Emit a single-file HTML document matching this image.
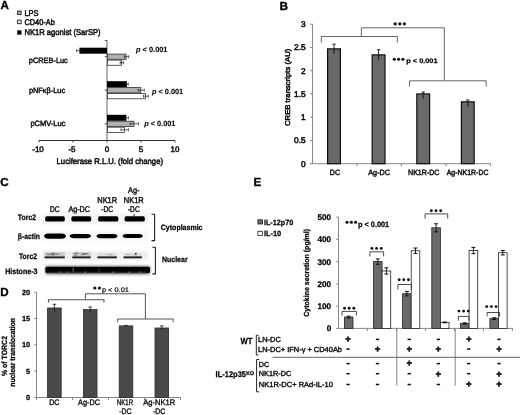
<!DOCTYPE html>
<html><head><meta charset="utf-8"><style>
html,body{margin:0;padding:0;background:#fff;}
svg{display:block;will-change:transform;}
text{font-family:"Liberation Sans", sans-serif;text-rendering:geometricPrecision;stroke:#111;}
</style></head><body>
<svg width="520" height="415" viewBox="0 0 520 415">
<defs>
<filter id="gsoft" x="0" y="0" width="100%" height="100%"><feGaussianBlur stdDeviation="0.25"/></filter>
<filter id="bl1" x="-10%" y="-30%" width="120%" height="160%"><feGaussianBlur stdDeviation="0.8"/></filter>
<filter id="bl2" x="-10%" y="-50%" width="120%" height="200%"><feGaussianBlur stdDeviation="0.6"/></filter>
<filter id="bl3" x="-10%" y="-50%" width="120%" height="200%"><feGaussianBlur stdDeviation="0.45"/></filter>
</defs>
<rect width="520" height="415" fill="#fff"/>
<g filter="url(#gsoft)">
<text x="0.60" y="9.30" font-size="11.6" style="stroke-width:0.35px" font-weight="bold" >A</text>
<rect x="17.60" y="11.05" width="3.50" height="3.50" fill="#b0b0b0" stroke="#333" stroke-width="1.0" />
<text x="24.40" y="15.50" font-size="8.4" style="stroke-width:0.5px" textLength="14.20" lengthAdjust="spacingAndGlyphs" >LPS</text>
<rect x="17.60" y="20.15" width="3.50" height="3.50" fill="#f4f4f4" stroke="#333" stroke-width="1.0" />
<text x="24.40" y="24.60" font-size="8.4" style="stroke-width:0.5px" textLength="30.40" lengthAdjust="spacingAndGlyphs" >CD40-Ab</text>
<rect x="17.60" y="30.75" width="3.50" height="3.50" fill="#000000" stroke="#333" stroke-width="1.0" />
<text x="24.40" y="35.20" font-size="8.4" style="stroke-width:0.5px" textLength="76.20" lengthAdjust="spacingAndGlyphs" >NK1R agonist (SarSP)</text>
<line x1="107.00" y1="40.00" x2="107.00" y2="140.50" stroke="#666" stroke-width="1.0"/>
<line x1="104.80" y1="40.50" x2="107.00" y2="40.50" stroke="#444" stroke-width="0.9"/>
<line x1="39.00" y1="140.50" x2="175.00" y2="140.50" stroke="#333" stroke-width="1.0"/>
<line x1="39.00" y1="140.50" x2="39.00" y2="142.50" stroke="#333" stroke-width="0.9"/>
<text x="38.00" y="152.40" font-size="8.0" style="stroke-width:0.5px" text-anchor="middle" >-10</text>
<line x1="73.00" y1="140.50" x2="73.00" y2="142.50" stroke="#333" stroke-width="0.9"/>
<text x="72.00" y="152.40" font-size="8.0" style="stroke-width:0.5px" text-anchor="middle" >-5</text>
<line x1="107.00" y1="140.50" x2="107.00" y2="142.50" stroke="#333" stroke-width="0.9"/>
<text x="107.00" y="152.40" font-size="8.0" style="stroke-width:0.5px" text-anchor="middle" >0</text>
<line x1="141.00" y1="140.50" x2="141.00" y2="142.50" stroke="#333" stroke-width="0.9"/>
<text x="141.00" y="152.40" font-size="8.0" style="stroke-width:0.5px" text-anchor="middle" >5</text>
<line x1="175.00" y1="140.50" x2="175.00" y2="142.50" stroke="#333" stroke-width="0.9"/>
<text x="175.00" y="152.40" font-size="8.0" style="stroke-width:0.5px" text-anchor="middle" >10</text>
<text x="56.60" y="163.60" font-size="8.2" style="stroke-width:0.5px" textLength="106.40" lengthAdjust="spacingAndGlyphs" >Luciferase R.L.U. (fold change)</text>
<text x="28.80" y="63.00" font-size="7.8" style="stroke-width:0.45px" textLength="39.00" lengthAdjust="spacingAndGlyphs" >pCREB-Luc</text>
<rect x="79.39" y="47.70" width="27.61" height="6.00" fill="#000" />
<line x1="76.54" y1="50.70" x2="82.25" y2="50.70" stroke="#222" stroke-width="0.7"/>
<line x1="82.25" y1="49.20" x2="82.25" y2="52.20" stroke="#222" stroke-width="0.7"/>
<line x1="76.54" y1="49.20" x2="76.54" y2="52.20" stroke="#222" stroke-width="0.7"/>
<rect x="107.40" y="54.10" width="18.72" height="5.20" fill="#b0b0b0" stroke="#333" stroke-width="0.8" />
<line x1="124.34" y1="56.70" x2="128.69" y2="56.70" stroke="#222" stroke-width="0.7"/>
<line x1="128.69" y1="55.20" x2="128.69" y2="58.20" stroke="#222" stroke-width="0.7"/>
<line x1="124.34" y1="55.20" x2="124.34" y2="58.20" stroke="#222" stroke-width="0.7"/>
<rect x="107.40" y="60.10" width="14.09" height="5.20" fill="#ffffff" stroke="#333" stroke-width="0.8" />
<line x1="120.19" y1="62.70" x2="123.59" y2="62.70" stroke="#222" stroke-width="0.7"/>
<line x1="123.59" y1="61.20" x2="123.59" y2="64.20" stroke="#222" stroke-width="0.7"/>
<line x1="120.19" y1="61.20" x2="120.19" y2="64.20" stroke="#222" stroke-width="0.7"/>
<text x="136.00" y="51.90" font-size="7.4" style="stroke-width:0.1px" font-weight="bold" textLength="31.50" lengthAdjust="spacingAndGlyphs" ><tspan font-style="italic">p</tspan> &lt; 0.001</text>
<line x1="104.80" y1="56.70" x2="107.00" y2="56.70" stroke="#333" stroke-width="0.9"/>
<text x="28.90" y="92.60" font-size="7.8" style="stroke-width:0.45px" textLength="36.20" lengthAdjust="spacingAndGlyphs" >pNF&#954;&#946;-Luc</text>
<rect x="107.00" y="81.20" width="19.92" height="6.00" fill="#000" />
<line x1="125.56" y1="84.20" x2="128.28" y2="84.20" stroke="#222" stroke-width="0.7"/>
<line x1="128.28" y1="82.70" x2="128.28" y2="85.70" stroke="#222" stroke-width="0.7"/>
<line x1="125.56" y1="82.70" x2="125.56" y2="85.70" stroke="#222" stroke-width="0.7"/>
<rect x="107.40" y="87.60" width="33.40" height="5.20" fill="#b0b0b0" stroke="#333" stroke-width="0.8" />
<line x1="138.14" y1="90.20" x2="144.26" y2="90.20" stroke="#222" stroke-width="0.7"/>
<line x1="144.26" y1="88.70" x2="144.26" y2="91.70" stroke="#222" stroke-width="0.7"/>
<line x1="138.14" y1="88.70" x2="138.14" y2="91.70" stroke="#222" stroke-width="0.7"/>
<rect x="107.40" y="93.60" width="38.10" height="5.20" fill="#ffffff" stroke="#333" stroke-width="0.8" />
<line x1="143.52" y1="96.20" x2="148.28" y2="96.20" stroke="#222" stroke-width="0.7"/>
<line x1="148.28" y1="94.70" x2="148.28" y2="97.70" stroke="#222" stroke-width="0.7"/>
<line x1="143.52" y1="94.70" x2="143.52" y2="97.70" stroke="#222" stroke-width="0.7"/>
<text x="152.00" y="93.50" font-size="7.4" style="stroke-width:0.1px" font-weight="bold" textLength="31.20" lengthAdjust="spacingAndGlyphs" ><tspan font-style="italic">p</tspan> &lt; 0.001</text>
<line x1="104.80" y1="90.20" x2="107.00" y2="90.20" stroke="#333" stroke-width="0.9"/>
<text x="30.40" y="126.00" font-size="7.8" style="stroke-width:0.45px" textLength="35.10" lengthAdjust="spacingAndGlyphs" >pCMV-Luc</text>
<rect x="107.00" y="114.80" width="19.38" height="6.00" fill="#000" />
<line x1="124.34" y1="117.80" x2="128.42" y2="117.80" stroke="#222" stroke-width="0.7"/>
<line x1="128.42" y1="116.30" x2="128.42" y2="119.30" stroke="#222" stroke-width="0.7"/>
<line x1="124.34" y1="116.30" x2="124.34" y2="119.30" stroke="#222" stroke-width="0.7"/>
<rect x="107.40" y="121.20" width="26.60" height="5.20" fill="#b0b0b0" stroke="#333" stroke-width="0.8" />
<line x1="130.32" y1="123.80" x2="138.48" y2="123.80" stroke="#222" stroke-width="0.7"/>
<line x1="138.48" y1="122.30" x2="138.48" y2="125.30" stroke="#222" stroke-width="0.7"/>
<line x1="130.32" y1="122.30" x2="130.32" y2="125.30" stroke="#222" stroke-width="0.7"/>
<rect x="107.40" y="127.20" width="16.88" height="5.20" fill="#ffffff" stroke="#333" stroke-width="0.8" />
<line x1="120.94" y1="129.80" x2="128.42" y2="129.80" stroke="#222" stroke-width="0.7"/>
<line x1="128.42" y1="128.30" x2="128.42" y2="131.30" stroke="#222" stroke-width="0.7"/>
<line x1="120.94" y1="128.30" x2="120.94" y2="131.30" stroke="#222" stroke-width="0.7"/>
<text x="144.20" y="126.00" font-size="7.4" style="stroke-width:0.1px" font-weight="bold" textLength="31.20" lengthAdjust="spacingAndGlyphs" ><tspan font-style="italic">p</tspan> &lt; 0.001</text>
<line x1="104.80" y1="123.80" x2="107.00" y2="123.80" stroke="#333" stroke-width="0.9"/>
<text x="279.40" y="9.50" font-size="11.8" style="stroke-width:0.35px" font-weight="bold" >B</text>
<line x1="312.50" y1="24.20" x2="312.50" y2="163.70" stroke="#888" stroke-width="1.0"/>
<line x1="312.50" y1="163.70" x2="490.50" y2="163.70" stroke="#888" stroke-width="1.0"/>
<line x1="310.00" y1="163.70" x2="312.50" y2="163.70" stroke="#888" stroke-width="1.0"/>
<text x="305.60" y="166.50" font-size="8.3" style="stroke-width:0.55px" text-anchor="end" >0</text>
<line x1="310.00" y1="140.45" x2="312.50" y2="140.45" stroke="#888" stroke-width="1.0"/>
<text x="305.60" y="143.25" font-size="8.3" style="stroke-width:0.55px" text-anchor="end" >0.5</text>
<line x1="310.00" y1="117.20" x2="312.50" y2="117.20" stroke="#888" stroke-width="1.0"/>
<text x="305.60" y="120.00" font-size="8.3" style="stroke-width:0.55px" text-anchor="end" >1</text>
<line x1="310.00" y1="93.95" x2="312.50" y2="93.95" stroke="#888" stroke-width="1.0"/>
<text x="305.60" y="96.75" font-size="8.3" style="stroke-width:0.55px" text-anchor="end" >1.5</text>
<line x1="310.00" y1="70.70" x2="312.50" y2="70.70" stroke="#888" stroke-width="1.0"/>
<text x="305.60" y="73.50" font-size="8.3" style="stroke-width:0.55px" text-anchor="end" >2</text>
<line x1="310.00" y1="47.45" x2="312.50" y2="47.45" stroke="#888" stroke-width="1.0"/>
<text x="305.60" y="50.25" font-size="8.3" style="stroke-width:0.55px" text-anchor="end" >2.5</text>
<line x1="310.00" y1="24.20" x2="312.50" y2="24.20" stroke="#888" stroke-width="1.0"/>
<text x="305.60" y="27.00" font-size="8.3" style="stroke-width:0.55px" text-anchor="end" >3</text>
<line x1="357.00" y1="163.70" x2="357.00" y2="166.20" stroke="#888" stroke-width="1.0"/>
<line x1="401.50" y1="163.70" x2="401.50" y2="166.20" stroke="#888" stroke-width="1.0"/>
<line x1="446.00" y1="163.70" x2="446.00" y2="166.20" stroke="#888" stroke-width="1.0"/>
<line x1="490.50" y1="163.70" x2="490.50" y2="166.20" stroke="#888" stroke-width="1.0"/>
<rect x="327.60" y="48.84" width="12.80" height="114.86" fill="#6a6a6a" stroke="#111" stroke-width="1.2" />
<line x1="334.00" y1="44.19" x2="334.00" y2="53.84" stroke="#111" stroke-width="0.9"/>
<line x1="332.30" y1="44.19" x2="335.70" y2="44.19" stroke="#111" stroke-width="0.9"/>
<rect x="372.20" y="54.89" width="12.80" height="108.81" fill="#6a6a6a" stroke="#111" stroke-width="1.2" />
<line x1="378.60" y1="49.78" x2="378.60" y2="59.89" stroke="#111" stroke-width="0.9"/>
<line x1="376.90" y1="49.78" x2="380.30" y2="49.78" stroke="#111" stroke-width="0.9"/>
<rect x="416.80" y="93.95" width="12.80" height="69.75" fill="#6a6a6a" stroke="#111" stroke-width="1.2" />
<line x1="423.20" y1="92.09" x2="423.20" y2="98.95" stroke="#111" stroke-width="0.9"/>
<line x1="421.50" y1="92.09" x2="424.90" y2="92.09" stroke="#111" stroke-width="0.9"/>
<rect x="461.40" y="101.85" width="12.80" height="61.84" fill="#6a6a6a" stroke="#111" stroke-width="1.2" />
<line x1="467.80" y1="99.99" x2="467.80" y2="106.85" stroke="#111" stroke-width="0.9"/>
<line x1="466.10" y1="99.99" x2="469.50" y2="99.99" stroke="#111" stroke-width="0.9"/>
<text x="329.80" y="175.00" font-size="7.6" style="stroke-width:0.45px" textLength="10.20" lengthAdjust="spacingAndGlyphs" >DC</text>
<text x="368.30" y="175.00" font-size="7.6" style="stroke-width:0.45px" textLength="21.70" lengthAdjust="spacingAndGlyphs" >Ag-DC</text>
<text x="408.10" y="175.00" font-size="7.6" style="stroke-width:0.45px" textLength="31.30" lengthAdjust="spacingAndGlyphs" >NK1R-DC</text>
<text x="446.70" y="175.00" font-size="7.6" style="stroke-width:0.45px" textLength="41.80" lengthAdjust="spacingAndGlyphs" >Ag-NK1R-DC</text>
<text x="289.60" y="126.00" font-size="7.0" style="stroke-width:0.5px" textLength="77.30" lengthAdjust="spacingAndGlyphs" transform="rotate(-90 289.60 126.00)" >CREB transcripts (AU)</text>
<path d="M321.3,42.5 V36.5 H397.3 V42.5" stroke="#555" stroke-width="0.9" fill="none"/>
<path d="M361.3,36.5 V27.8 H444.3 V80.6" stroke="#555" stroke-width="0.9" fill="none"/>
<path d="M409.6,86.6 V80.8 H486.2 V86.6" stroke="#555" stroke-width="0.9" fill="none"/>
<circle cx="395.20" cy="23.80" r="1.62" fill="#111"/>
<circle cx="399.80" cy="23.80" r="1.62" fill="#111"/>
<circle cx="404.40" cy="23.80" r="1.62" fill="#111"/>
<circle cx="394.30" cy="59.20" r="1.56" fill="#111"/>
<circle cx="398.60" cy="59.20" r="1.56" fill="#111"/>
<circle cx="402.90" cy="59.20" r="1.56" fill="#111"/>
<text x="406.30" y="62.80" font-size="6.6" style="stroke-width:0.25px" font-weight="bold" textLength="31.20" lengthAdjust="spacingAndGlyphs" >p &lt; 0.001</text>
<text x="0.20" y="185.80" font-size="11.6" style="stroke-width:0.35px" font-weight="bold" >C</text>
<text x="54.80" y="211.90" font-size="8.3" style="stroke-width:0.4px" text-anchor="middle" textLength="9.60" lengthAdjust="spacingAndGlyphs" >DC</text>
<text x="79.20" y="211.90" font-size="8.3" style="stroke-width:0.4px" text-anchor="middle" textLength="21.60" lengthAdjust="spacingAndGlyphs" >Ag-DC</text>
<text x="107.20" y="202.60" font-size="8.3" style="stroke-width:0.4px" text-anchor="middle" textLength="19.90" lengthAdjust="spacingAndGlyphs" >NK1R</text>
<text x="107.20" y="211.90" font-size="8.3" style="stroke-width:0.4px" text-anchor="middle" textLength="11.80" lengthAdjust="spacingAndGlyphs" >-DC</text>
<text x="133.80" y="193.30" font-size="8.3" style="stroke-width:0.4px" text-anchor="middle" textLength="11.50" lengthAdjust="spacingAndGlyphs" >Ag-</text>
<text x="133.80" y="202.60" font-size="8.3" style="stroke-width:0.4px" text-anchor="middle" textLength="19.90" lengthAdjust="spacingAndGlyphs" >NK1R</text>
<text x="133.80" y="211.90" font-size="8.3" style="stroke-width:0.4px" text-anchor="middle" textLength="11.80" lengthAdjust="spacingAndGlyphs" >-DC</text>
<text x="17.80" y="220.10" font-size="8.0" style="stroke-width:0.25px" font-weight="bold" textLength="18.30" lengthAdjust="spacingAndGlyphs" >Torc2</text>
<text x="17.80" y="238.70" font-size="8.0" style="stroke-width:0.25px" font-weight="bold" textLength="22.10" lengthAdjust="spacingAndGlyphs" >&#946;-actin</text>
<text x="19.00" y="258.90" font-size="8.0" style="stroke-width:0.25px" font-weight="bold" textLength="17.90" lengthAdjust="spacingAndGlyphs" >Torc2</text>
<text x="5.20" y="273.50" font-size="8.0" style="stroke-width:0.25px" font-weight="bold" textLength="32.30" lengthAdjust="spacingAndGlyphs" >Histone-3</text>
<text x="160.80" y="230.00" font-size="7.8" style="stroke-width:0.25px" font-weight="bold" textLength="41.70" lengthAdjust="spacingAndGlyphs" >Cytoplasmic</text>
<text x="162.00" y="262.40" font-size="7.8" style="stroke-width:0.25px" font-weight="bold" textLength="25.60" lengthAdjust="spacingAndGlyphs" >Nuclear</text>
<path d="M151.5,214.2 H154.6 V240.6 H151.5" stroke="#222" stroke-width="1.1" fill="none"/>
<path d="M152.3,247.2 H155.4 V273.9 H152.3" stroke="#222" stroke-width="1.1" fill="none"/>
<rect x="42.00" y="214.00" width="106.00" height="10.00" fill="#f3f3f3" filter="url(#bl1)"/>
<rect x="42.00" y="231.00" width="106.00" height="9.50" fill="#f5f5f5" filter="url(#bl1)"/>
<rect x="42.00" y="251.00" width="106.00" height="9.00" fill="#efefef" filter="url(#bl1)"/>
<rect x="45.20" y="216.3" width="19.60" height="5.3" rx="1.6" fill="#000" filter="url(#bl3)"/>
<rect x="71.40" y="216.3" width="19.80" height="5.3" rx="1.6" fill="#000" filter="url(#bl3)"/>
<rect x="98.10" y="216.3" width="20.20" height="5.3" rx="1.6" fill="#000" filter="url(#bl3)"/>
<rect x="124.60" y="216.3" width="20.20" height="5.3" rx="1.6" fill="#000" filter="url(#bl3)"/>
<path d="M44.0,236.1 Q44.8,233.5 48.0,233.5 L62.0,233.5 Q65.2,233.5 66.0,236.1 Q65.2,238.7 62.0,238.7 L48.0,238.7 Q44.8,238.7 44.0,236.1 Z" fill="#000" filter="url(#bl3)"/>
<path d="M69.4,236.1 Q70.2,234.0 73.4,234.0 L87.2,234.0 Q90.4,234.0 91.2,236.1 Q90.4,238.2 87.2,238.2 L73.4,238.2 Q70.2,238.2 69.4,236.1 Z" fill="#000" filter="url(#bl3)"/>
<path d="M96.3,236.1 Q97.1,233.9 100.3,233.9 L113.7,233.9 Q116.9,233.9 117.7,236.1 Q116.9,238.29999999999998 113.7,238.29999999999998 L100.3,238.29999999999998 Q97.1,238.29999999999998 96.3,236.1 Z" fill="#000" filter="url(#bl3)"/>
<path d="M122.3,236.1 Q123.1,234.1 126.3,234.1 L139.0,234.1 Q142.2,234.1 143.0,236.1 Q142.2,238.1 139.0,238.1 L126.3,238.1 Q123.1,238.1 122.3,236.1 Z" fill="#000" filter="url(#bl3)"/>
<rect x="44.60" y="252.3" width="20.20" height="3.6" fill="#c8c8c8" filter="url(#bl2)"/>
<rect x="50.52" y="252.96" width="4.13" height="1.0" fill="#777" filter="url(#bl2)"/>
<rect x="46.70" y="253.89" width="3.41" height="1.0" fill="#777" filter="url(#bl2)"/>
<rect x="46.48" y="253.82" width="2.59" height="1.0" fill="#777" filter="url(#bl2)"/>
<rect x="52.19" y="252.77" width="2.73" height="1.0" fill="#777" filter="url(#bl2)"/>
<rect x="52.05" y="254.58" width="2.81" height="1.0" fill="#777" filter="url(#bl2)"/>
<rect x="48.99" y="254.11" width="4.87" height="1.0" fill="#777" filter="url(#bl2)"/>
<rect x="54.37" y="253.55" width="4.94" height="1.0" fill="#777" filter="url(#bl2)"/>
<rect x="44.60" y="256.4" width="20.20" height="1.9" fill="#1a1a1a" filter="url(#bl2)"/>
<rect x="72.30" y="252.3" width="18.40" height="3.6" fill="#c8c8c8" filter="url(#bl2)"/>
<rect x="73.92" y="254.66" width="3.22" height="1.0" fill="#777" filter="url(#bl2)"/>
<rect x="75.23" y="252.88" width="3.27" height="1.0" fill="#777" filter="url(#bl2)"/>
<rect x="84.24" y="253.03" width="3.95" height="1.0" fill="#777" filter="url(#bl2)"/>
<rect x="81.86" y="253.49" width="3.87" height="1.0" fill="#777" filter="url(#bl2)"/>
<rect x="74.14" y="252.74" width="3.01" height="1.0" fill="#777" filter="url(#bl2)"/>
<rect x="82.42" y="253.63" width="3.29" height="1.0" fill="#777" filter="url(#bl2)"/>
<rect x="81.15" y="253.69" width="3.25" height="1.0" fill="#777" filter="url(#bl2)"/>
<rect x="72.30" y="256.4" width="18.40" height="1.9" fill="#1a1a1a" filter="url(#bl2)"/>
<rect x="97.40" y="253.0" width="19.50" height="3.0" fill="#dedede" filter="url(#bl2)"/>
<rect x="109.92" y="254.60" width="2.49" height="0.8" fill="#b0b0b0" filter="url(#bl2)"/>
<rect x="106.73" y="254.25" width="3.75" height="0.8" fill="#b0b0b0" filter="url(#bl2)"/>
<rect x="108.98" y="253.78" width="3.96" height="0.8" fill="#b0b0b0" filter="url(#bl2)"/>
<rect x="97.40" y="256.4" width="19.50" height="1.9" fill="#1a1a1a" filter="url(#bl2)"/>
<rect x="123.60" y="253.0" width="18.20" height="3.0" fill="#dedede" filter="url(#bl2)"/>
<rect x="126.16" y="254.04" width="3.51" height="0.8" fill="#b0b0b0" filter="url(#bl2)"/>
<rect x="126.61" y="254.18" width="2.08" height="0.8" fill="#b0b0b0" filter="url(#bl2)"/>
<rect x="133.42" y="254.73" width="3.15" height="0.8" fill="#b0b0b0" filter="url(#bl2)"/>
<rect x="123.60" y="256.4" width="18.20" height="1.9" fill="#1a1a1a" filter="url(#bl2)"/>
<circle cx="135.8" cy="253.6" r="0.9" fill="#111"/>
<circle cx="134.2" cy="215.0" r="0.8" fill="#111"/>
<rect x="45.0" y="265.6" width="105.5" height="9.2" rx="2" fill="#9a9a9a" filter="url(#bl1)"/>
<rect x="45.4" y="266.8" width="104.6" height="6.2" rx="1.5" fill="#050505" filter="url(#bl3)"/>
<rect x="47" y="271.8" width="100" height="1.6" fill="#2a2a2a" filter="url(#bl2)"/>
<rect x="58.5" y="271.5" width="2.5" height="1.6" fill="#555" filter="url(#bl2)"/>
<rect x="66.0" y="271.5" width="2.5" height="1.6" fill="#555" filter="url(#bl2)"/>
<rect x="84.0" y="271.5" width="2.5" height="1.6" fill="#555" filter="url(#bl2)"/>
<rect x="112.0" y="271.5" width="2.5" height="1.6" fill="#555" filter="url(#bl2)"/>
<rect x="128.0" y="271.5" width="2.5" height="1.6" fill="#555" filter="url(#bl2)"/>
<rect x="139.0" y="271.5" width="2.5" height="1.6" fill="#555" filter="url(#bl2)"/>
<rect x="72.4" y="267.6" width="1.6" height="5.2" fill="#444" filter="url(#bl2)"/>
<rect x="98.4" y="268.5" width="1.4" height="4.2" fill="#333" filter="url(#bl2)"/>
<text x="0.20" y="295.60" font-size="11.6" style="stroke-width:0.35px" font-weight="bold" >D</text>
<line x1="36.50" y1="292.20" x2="36.50" y2="397.50" stroke="#888" stroke-width="1.0"/>
<line x1="36.50" y1="397.50" x2="180.50" y2="397.50" stroke="#888" stroke-width="1.0"/>
<line x1="34.20" y1="397.50" x2="36.50" y2="397.50" stroke="#888" stroke-width="1.0"/>
<text x="30.20" y="400.10" font-size="7.4" style="stroke-width:0.25px" font-weight="bold" text-anchor="end" >0</text>
<line x1="34.20" y1="371.18" x2="36.50" y2="371.18" stroke="#888" stroke-width="1.0"/>
<text x="30.20" y="373.78" font-size="7.4" style="stroke-width:0.25px" font-weight="bold" text-anchor="end" >5</text>
<line x1="34.20" y1="344.85" x2="36.50" y2="344.85" stroke="#888" stroke-width="1.0"/>
<text x="30.20" y="347.45" font-size="7.4" style="stroke-width:0.25px" font-weight="bold" text-anchor="end" >10</text>
<line x1="34.20" y1="318.52" x2="36.50" y2="318.52" stroke="#888" stroke-width="1.0"/>
<text x="30.20" y="321.12" font-size="7.4" style="stroke-width:0.25px" font-weight="bold" text-anchor="end" >15</text>
<line x1="34.20" y1="292.20" x2="36.50" y2="292.20" stroke="#888" stroke-width="1.0"/>
<text x="30.20" y="294.80" font-size="7.4" style="stroke-width:0.25px" font-weight="bold" text-anchor="end" >20</text>
<line x1="36.50" y1="397.50" x2="36.50" y2="400.00" stroke="#888" stroke-width="1.0"/>
<line x1="72.50" y1="397.50" x2="72.50" y2="400.00" stroke="#888" stroke-width="1.0"/>
<line x1="108.50" y1="397.50" x2="108.50" y2="400.00" stroke="#888" stroke-width="1.0"/>
<line x1="144.50" y1="397.50" x2="144.50" y2="400.00" stroke="#888" stroke-width="1.0"/>
<line x1="180.50" y1="397.50" x2="180.50" y2="400.00" stroke="#888" stroke-width="1.0"/>
<rect x="47.60" y="308.00" width="13.60" height="89.50" fill="#4a4a4a" stroke="#2a2a2a" stroke-width="0.8" />
<line x1="54.40" y1="304.31" x2="54.40" y2="311.68" stroke="#111" stroke-width="0.8"/>
<line x1="52.60" y1="304.31" x2="56.20" y2="304.31" stroke="#111" stroke-width="0.8"/>
<rect x="83.40" y="309.57" width="13.60" height="87.93" fill="#4a4a4a" stroke="#2a2a2a" stroke-width="0.8" />
<line x1="90.20" y1="306.94" x2="90.20" y2="312.21" stroke="#111" stroke-width="0.8"/>
<line x1="88.40" y1="306.94" x2="92.00" y2="306.94" stroke="#111" stroke-width="0.8"/>
<rect x="119.20" y="325.90" width="13.60" height="71.60" fill="#4a4a4a" stroke="#2a2a2a" stroke-width="0.8" />
<line x1="126.00" y1="325.37" x2="126.00" y2="326.42" stroke="#111" stroke-width="0.8"/>
<line x1="124.20" y1="325.37" x2="127.80" y2="325.37" stroke="#111" stroke-width="0.8"/>
<rect x="155.00" y="328.00" width="13.60" height="69.50" fill="#4a4a4a" stroke="#2a2a2a" stroke-width="0.8" />
<line x1="161.80" y1="325.90" x2="161.80" y2="330.11" stroke="#111" stroke-width="0.8"/>
<line x1="160.00" y1="325.90" x2="163.60" y2="325.90" stroke="#111" stroke-width="0.8"/>
<text x="49.20" y="405.40" font-size="8.0" style="stroke-width:0.35px" textLength="10.30" lengthAdjust="spacingAndGlyphs" >DC</text>
<text x="78.10" y="405.40" font-size="8.0" style="stroke-width:0.35px" textLength="21.80" lengthAdjust="spacingAndGlyphs" >Ag-DC</text>
<text x="117.00" y="405.20" font-size="8.0" style="stroke-width:0.35px" textLength="16.00" lengthAdjust="spacingAndGlyphs" >NK1R</text>
<text x="119.20" y="414.00" font-size="8.0" style="stroke-width:0.35px" textLength="12.30" lengthAdjust="spacingAndGlyphs" >-DC</text>
<text x="143.20" y="405.20" font-size="8.0" style="stroke-width:0.35px" textLength="32.00" lengthAdjust="spacingAndGlyphs" >Ag-NK1R</text>
<text x="153.00" y="414.00" font-size="8.0" style="stroke-width:0.35px" textLength="12.40" lengthAdjust="spacingAndGlyphs" >-DC</text>
<text x="6.50" y="376.00" font-size="7.6" style="stroke-width:0.25px" font-weight="bold" textLength="40.00" lengthAdjust="spacingAndGlyphs" transform="rotate(-90 6.50 376.00)" >% of TORC2</text>
<text x="15.50" y="386.70" font-size="7.6" style="stroke-width:0.25px" font-weight="bold" textLength="68.70" lengthAdjust="spacingAndGlyphs" transform="rotate(-90 15.50 386.70)" >nuclear translocation</text>
<path d="M48.5,302.6 V299.7 H103.9 V302.6" stroke="#555" stroke-width="1.15" fill="none"/>
<path d="M85.4,299.7 V293.8 H145.4 V319" stroke="#555" stroke-width="1.0" fill="none"/>
<path d="M117.7,322.2 V319 H173.2 V322.2" stroke="#555" stroke-width="1.0" fill="none"/>
<circle cx="94.80" cy="288.00" r="1.56" fill="#111"/>
<circle cx="99.40" cy="288.00" r="1.56" fill="#111"/>
<text x="101.90" y="292.10" font-size="6.6" style="stroke-width:0.2px" textLength="27.00" lengthAdjust="spacingAndGlyphs" >p &lt; 0.01</text>
<text x="253.60" y="185.80" font-size="11.6" style="stroke-width:0.35px" font-weight="bold" >E</text>
<rect x="257.90" y="219.80" width="4.60" height="4.20" fill="#6a6a6a" stroke="#222" stroke-width="0.8" />
<text x="263.90" y="224.60" font-size="7.6" style="stroke-width:0.25px" font-weight="bold" textLength="29.30" lengthAdjust="spacingAndGlyphs" >IL-12p70</text>
<rect x="257.90" y="231.30" width="4.60" height="4.20" fill="#ffffff" stroke="#222" stroke-width="0.8" />
<text x="263.90" y="236.20" font-size="7.6" style="stroke-width:0.25px" font-weight="bold" textLength="17.30" lengthAdjust="spacingAndGlyphs" >IL-10</text>
<line x1="338.50" y1="217.10" x2="338.50" y2="328.40" stroke="#888" stroke-width="1.0"/>
<line x1="338.50" y1="328.40" x2="512.50" y2="328.40" stroke="#888" stroke-width="1.0"/>
<line x1="336.20" y1="328.40" x2="338.50" y2="328.40" stroke="#888" stroke-width="1.0"/>
<text x="331.20" y="331.30" font-size="8.2" style="stroke-width:0.25px" font-weight="bold" text-anchor="end" >0</text>
<line x1="336.20" y1="306.14" x2="338.50" y2="306.14" stroke="#888" stroke-width="1.0"/>
<text x="331.20" y="309.04" font-size="8.2" style="stroke-width:0.25px" font-weight="bold" text-anchor="end" >100</text>
<line x1="336.20" y1="283.88" x2="338.50" y2="283.88" stroke="#888" stroke-width="1.0"/>
<text x="331.20" y="286.78" font-size="8.2" style="stroke-width:0.25px" font-weight="bold" text-anchor="end" >200</text>
<line x1="336.20" y1="261.62" x2="338.50" y2="261.62" stroke="#888" stroke-width="1.0"/>
<text x="331.20" y="264.52" font-size="8.2" style="stroke-width:0.25px" font-weight="bold" text-anchor="end" >300</text>
<line x1="336.20" y1="239.36" x2="338.50" y2="239.36" stroke="#888" stroke-width="1.0"/>
<text x="331.20" y="242.26" font-size="8.2" style="stroke-width:0.25px" font-weight="bold" text-anchor="end" >400</text>
<line x1="336.20" y1="217.10" x2="338.50" y2="217.10" stroke="#888" stroke-width="1.0"/>
<text x="331.20" y="220.00" font-size="8.2" style="stroke-width:0.25px" font-weight="bold" text-anchor="end" >500</text>
<line x1="367.50" y1="328.40" x2="367.50" y2="330.90" stroke="#888" stroke-width="1.0"/>
<line x1="396.50" y1="328.40" x2="396.50" y2="330.90" stroke="#888" stroke-width="1.0"/>
<line x1="425.50" y1="328.40" x2="425.50" y2="330.90" stroke="#888" stroke-width="1.0"/>
<line x1="454.50" y1="328.40" x2="454.50" y2="330.90" stroke="#888" stroke-width="1.0"/>
<line x1="483.50" y1="328.40" x2="483.50" y2="330.90" stroke="#888" stroke-width="1.0"/>
<line x1="512.50" y1="328.40" x2="512.50" y2="330.90" stroke="#888" stroke-width="1.0"/>
<text x="309.40" y="316.70" font-size="7.4" style="stroke-width:0.25px" font-weight="bold" textLength="87.80" lengthAdjust="spacingAndGlyphs" transform="rotate(-90 309.40 316.70)" >Cytokine secretion (pg/ml)</text>
<circle cx="347.00" cy="222.30" r="1.56" fill="#111"/>
<circle cx="351.30" cy="222.30" r="1.56" fill="#111"/>
<circle cx="355.60" cy="222.30" r="1.56" fill="#111"/>
<text x="358.00" y="227.20" font-size="7.8" style="stroke-width:0.25px" font-weight="bold" textLength="31.20" lengthAdjust="spacingAndGlyphs" >p &lt; 0.001</text>
<rect x="344.40" y="317.05" width="8.60" height="11.35" fill="#6a6a6a" stroke="#222" stroke-width="0.8" />
<line x1="348.70" y1="316.16" x2="348.70" y2="317.94" stroke="#111" stroke-width="0.9"/>
<line x1="346.70" y1="316.16" x2="350.70" y2="316.16" stroke="#111" stroke-width="1.0"/>
<line x1="346.70" y1="317.94" x2="350.70" y2="317.94" stroke="#111" stroke-width="1.0"/>
<rect x="373.50" y="261.62" width="8.60" height="66.78" fill="#6a6a6a" stroke="#222" stroke-width="0.8" />
<line x1="377.80" y1="258.95" x2="377.80" y2="264.29" stroke="#111" stroke-width="0.9"/>
<line x1="375.80" y1="258.95" x2="379.80" y2="258.95" stroke="#111" stroke-width="1.0"/>
<line x1="375.80" y1="264.29" x2="379.80" y2="264.29" stroke="#111" stroke-width="1.0"/>
<rect x="382.10" y="270.97" width="8.60" height="57.43" fill="#ffffff" stroke="#222" stroke-width="0.8" />
<line x1="386.40" y1="267.85" x2="386.40" y2="274.09" stroke="#111" stroke-width="0.9"/>
<line x1="384.40" y1="267.85" x2="388.40" y2="267.85" stroke="#111" stroke-width="1.0"/>
<line x1="384.40" y1="274.09" x2="388.40" y2="274.09" stroke="#111" stroke-width="1.0"/>
<rect x="402.60" y="293.67" width="8.60" height="34.73" fill="#6a6a6a" stroke="#222" stroke-width="0.8" />
<line x1="406.90" y1="291.45" x2="406.90" y2="295.90" stroke="#111" stroke-width="0.9"/>
<line x1="404.90" y1="291.45" x2="408.90" y2="291.45" stroke="#111" stroke-width="1.0"/>
<line x1="404.90" y1="295.90" x2="408.90" y2="295.90" stroke="#111" stroke-width="1.0"/>
<rect x="411.20" y="250.71" width="8.60" height="77.69" fill="#ffffff" stroke="#222" stroke-width="0.8" />
<line x1="415.50" y1="248.04" x2="415.50" y2="253.38" stroke="#111" stroke-width="0.9"/>
<line x1="413.50" y1="248.04" x2="417.50" y2="248.04" stroke="#111" stroke-width="1.0"/>
<line x1="413.50" y1="253.38" x2="417.50" y2="253.38" stroke="#111" stroke-width="1.0"/>
<rect x="431.80" y="227.78" width="8.60" height="100.62" fill="#6a6a6a" stroke="#222" stroke-width="0.8" />
<line x1="436.10" y1="223.78" x2="436.10" y2="231.79" stroke="#111" stroke-width="0.9"/>
<line x1="434.10" y1="223.78" x2="438.10" y2="223.78" stroke="#111" stroke-width="1.0"/>
<line x1="434.10" y1="231.79" x2="438.10" y2="231.79" stroke="#111" stroke-width="1.0"/>
<rect x="440.40" y="322.39" width="8.60" height="6.01" fill="#ffffff" stroke="#222" stroke-width="0.8" />
<line x1="444.70" y1="321.94" x2="444.70" y2="322.83" stroke="#111" stroke-width="0.9"/>
<line x1="442.70" y1="321.94" x2="446.70" y2="321.94" stroke="#111" stroke-width="1.0"/>
<line x1="442.70" y1="322.83" x2="446.70" y2="322.83" stroke="#111" stroke-width="1.0"/>
<rect x="460.50" y="323.50" width="8.60" height="4.90" fill="#6a6a6a" stroke="#222" stroke-width="0.8" />
<line x1="464.80" y1="322.83" x2="464.80" y2="324.17" stroke="#111" stroke-width="0.9"/>
<line x1="462.80" y1="322.83" x2="466.80" y2="322.83" stroke="#111" stroke-width="1.0"/>
<line x1="462.80" y1="324.17" x2="466.80" y2="324.17" stroke="#111" stroke-width="1.0"/>
<rect x="469.10" y="250.49" width="8.60" height="77.91" fill="#ffffff" stroke="#222" stroke-width="0.8" />
<line x1="473.40" y1="247.37" x2="473.40" y2="253.61" stroke="#111" stroke-width="0.9"/>
<line x1="471.40" y1="247.37" x2="475.40" y2="247.37" stroke="#111" stroke-width="1.0"/>
<line x1="471.40" y1="253.61" x2="475.40" y2="253.61" stroke="#111" stroke-width="1.0"/>
<rect x="489.90" y="318.61" width="8.60" height="9.79" fill="#6a6a6a" stroke="#222" stroke-width="0.8" />
<line x1="494.20" y1="317.72" x2="494.20" y2="319.50" stroke="#111" stroke-width="0.9"/>
<line x1="492.20" y1="317.72" x2="496.20" y2="317.72" stroke="#111" stroke-width="1.0"/>
<line x1="492.20" y1="319.50" x2="496.20" y2="319.50" stroke="#111" stroke-width="1.0"/>
<rect x="498.50" y="252.72" width="8.60" height="75.68" fill="#ffffff" stroke="#222" stroke-width="0.8" />
<line x1="502.80" y1="250.49" x2="502.80" y2="254.94" stroke="#111" stroke-width="0.9"/>
<line x1="500.80" y1="250.49" x2="504.80" y2="250.49" stroke="#111" stroke-width="1.0"/>
<line x1="500.80" y1="254.94" x2="504.80" y2="254.94" stroke="#111" stroke-width="1.0"/>
<path d="M342.0,315.5 V311.4 H356.4 V315.5" stroke="#333" stroke-width="0.9" fill="none"/>
<circle cx="344.55" cy="308.30" r="1.44" fill="#111"/>
<circle cx="349.20" cy="308.30" r="1.44" fill="#111"/>
<circle cx="353.85" cy="308.30" r="1.44" fill="#111"/>
<path d="M369.9,256.40000000000003 V251.8 H383.6 V256.40000000000003" stroke="#333" stroke-width="0.9" fill="none"/>
<circle cx="371.95" cy="248.40" r="1.44" fill="#111"/>
<circle cx="376.60" cy="248.40" r="1.44" fill="#111"/>
<circle cx="381.25" cy="248.40" r="1.44" fill="#111"/>
<path d="M397.9,289.5 V284.5 H411.5 V289.5" stroke="#333" stroke-width="0.9" fill="none"/>
<circle cx="399.15" cy="279.80" r="1.44" fill="#111"/>
<circle cx="403.80" cy="279.80" r="1.44" fill="#111"/>
<circle cx="408.45" cy="279.80" r="1.44" fill="#111"/>
<path d="M425.1,218.5 V213.9 H447.7 V218.5" stroke="#333" stroke-width="0.9" fill="none"/>
<circle cx="431.35" cy="210.80" r="1.44" fill="#111"/>
<circle cx="436.00" cy="210.80" r="1.44" fill="#111"/>
<circle cx="440.65" cy="210.80" r="1.44" fill="#111"/>
<path d="M458.3,320.59999999999997 V316.4 H468.9 V320.59999999999997" stroke="#333" stroke-width="0.9" fill="none"/>
<circle cx="458.95" cy="311.10" r="1.44" fill="#111"/>
<circle cx="463.60" cy="311.10" r="1.44" fill="#111"/>
<circle cx="468.25" cy="311.10" r="1.44" fill="#111"/>
<path d="M487.1,316.4 V312.5 H499.6 V316.4" stroke="#333" stroke-width="0.9" fill="none"/>
<circle cx="486.75" cy="306.60" r="1.44" fill="#111"/>
<circle cx="491.40" cy="306.60" r="1.44" fill="#111"/>
<circle cx="496.05" cy="306.60" r="1.44" fill="#111"/>
<text x="348.10" y="342.20" font-size="8.8" style="stroke-width:0.7px" font-weight="bold" text-anchor="middle" >+</text>
<rect x="375.85" y="338.65" width="3.30" height="1.50" fill="#111" />
<rect x="407.55" y="338.65" width="3.30" height="1.50" fill="#111" />
<rect x="436.75" y="338.65" width="3.30" height="1.50" fill="#111" />
<text x="468.70" y="342.20" font-size="8.8" style="stroke-width:0.7px" font-weight="bold" text-anchor="middle" >+</text>
<rect x="497.35" y="338.65" width="3.30" height="1.50" fill="#111" />
<rect x="346.45" y="348.35" width="3.30" height="1.50" fill="#111" />
<text x="377.50" y="351.90" font-size="8.8" style="stroke-width:0.7px" font-weight="bold" text-anchor="middle" >+</text>
<text x="409.20" y="351.90" font-size="8.8" style="stroke-width:0.7px" font-weight="bold" text-anchor="middle" >+</text>
<text x="438.40" y="351.90" font-size="8.8" style="stroke-width:0.7px" font-weight="bold" text-anchor="middle" >+</text>
<rect x="467.05" y="348.35" width="3.30" height="1.50" fill="#111" />
<text x="499.00" y="351.90" font-size="8.8" style="stroke-width:0.7px" font-weight="bold" text-anchor="middle" >+</text>
<rect x="346.45" y="362.85" width="3.30" height="1.50" fill="#111" />
<rect x="375.85" y="362.85" width="3.30" height="1.50" fill="#111" />
<text x="409.20" y="366.40" font-size="8.8" style="stroke-width:0.7px" font-weight="bold" text-anchor="middle" >+</text>
<rect x="436.75" y="362.85" width="3.30" height="1.50" fill="#111" />
<rect x="467.05" y="362.85" width="3.30" height="1.50" fill="#111" />
<rect x="497.35" y="362.85" width="3.30" height="1.50" fill="#111" />
<rect x="346.45" y="372.95" width="3.30" height="1.50" fill="#111" />
<rect x="375.85" y="372.95" width="3.30" height="1.50" fill="#111" />
<rect x="407.55" y="372.95" width="3.30" height="1.50" fill="#111" />
<text x="438.40" y="376.50" font-size="8.8" style="stroke-width:0.7px" font-weight="bold" text-anchor="middle" >+</text>
<rect x="467.05" y="372.95" width="3.30" height="1.50" fill="#111" />
<text x="499.00" y="376.50" font-size="8.8" style="stroke-width:0.7px" font-weight="bold" text-anchor="middle" >+</text>
<rect x="346.45" y="383.75" width="3.30" height="1.50" fill="#111" />
<rect x="375.85" y="383.75" width="3.30" height="1.50" fill="#111" />
<rect x="407.55" y="383.75" width="3.30" height="1.50" fill="#111" />
<rect x="436.75" y="383.75" width="3.30" height="1.50" fill="#111" />
<text x="468.70" y="387.30" font-size="8.8" style="stroke-width:0.7px" font-weight="bold" text-anchor="middle" >+</text>
<text x="499.00" y="387.30" font-size="8.8" style="stroke-width:0.7px" font-weight="bold" text-anchor="middle" >+</text>
<line x1="396.80" y1="328.40" x2="396.80" y2="385.70" stroke="#666" stroke-width="0.8"/>
<line x1="455.20" y1="328.40" x2="455.20" y2="385.70" stroke="#666" stroke-width="0.8"/>
<line x1="272.50" y1="357.30" x2="520.00" y2="357.30" stroke="#555" stroke-width="0.9"/>
<text x="240.50" y="344.20" font-size="8.8" style="stroke-width:0.25px" font-weight="bold" textLength="12.00" lengthAdjust="spacingAndGlyphs" >WT</text>
<path d="M258.6,335.3 H256.3 V355 H258.6" stroke="#222" stroke-width="1.0" fill="none"/>
<text x="258.00" y="341.60" font-size="7.4" style="stroke-width:0.4px" textLength="22.90" lengthAdjust="spacingAndGlyphs" >LN-DC</text>
<text x="258.00" y="352.20" font-size="7.4" style="stroke-width:0.4px" textLength="84.00" lengthAdjust="spacingAndGlyphs" >LN-DC+ IFN-&#947; + CD40Ab</text>
<text x="215.60" y="377.10" font-size="8.2" style="stroke-width:0.25px" font-weight="bold" textLength="30.40" lengthAdjust="spacingAndGlyphs" >IL-12p35</text>
<text x="246.20" y="374.60" font-size="5.4" style="stroke-width:0.25px" font-weight="bold" textLength="7.80" lengthAdjust="spacingAndGlyphs" >KO</text>
<path d="M259.0,359.5 H256.6 V391.8 H259.0" stroke="#222" stroke-width="1.0" fill="none"/>
<text x="258.80" y="366.80" font-size="7.4" style="stroke-width:0.4px" textLength="10.40" lengthAdjust="spacingAndGlyphs" >DC</text>
<text x="258.80" y="375.80" font-size="7.4" style="stroke-width:0.4px" textLength="32.50" lengthAdjust="spacingAndGlyphs" >NK1R-DC</text>
<text x="258.80" y="387.30" font-size="7.4" style="stroke-width:0.4px" textLength="74.10" lengthAdjust="spacingAndGlyphs" >NK1R-DC+  RAd-IL-10</text>
</g>
</svg>
</body></html>
